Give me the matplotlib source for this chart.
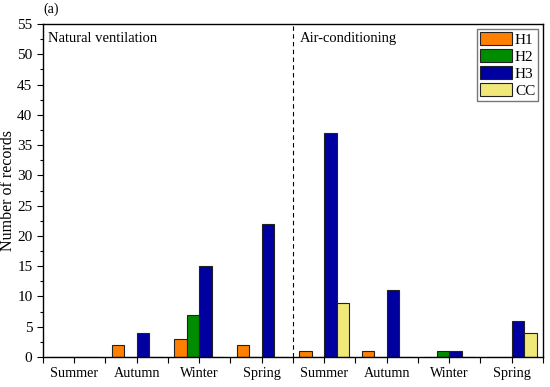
import numpy as np
import matplotlib
matplotlib.use('Agg')
import matplotlib.pyplot as plt
from matplotlib.ticker import MultipleLocator

plt.rcParams['font.family'] = ['Liberation Serif', 'DejaVu Serif']
plt.rcParams['font.size'] = 10

# data
seasons = ['Summer', 'Autumn', 'Winter', 'Spring', 'Summer', 'Autumn', 'Winter', 'Spring']
h1 = [0, 2, 3, 2, 1, 1, 0, 0]
h2 = [0, 0, 7, 0, 0, 0, 1, 0]
h3 = [0, 4, 15, 22, 37, 11, 1, 6]
cc = [0, 0, 0, 0, 9, 0, 0, 4]

series = [('H1', h1, '#FF8000'), ('H2', h2, '#008C00'),
          ('H3', h3, '#0000A0'), ('CC', cc, '#F0E878')]

fig = plt.figure(figsize=(5.5, 3.87), dpi=100)
ax = fig.add_axes([0.078, 0.0775, 0.909, 0.8605])

x = np.arange(len(seasons))
w = 0.2
for i, (name, vals, col) in enumerate(series):
    ax.bar(x + (i - 1.5) * w, vals, width=w, color=col, edgecolor='#222222',
           linewidth=0.8, label=name)

ax.axvline(3.5, color='black', linestyle=(0, (4, 3)), linewidth=0.8)

ax.set_xlim(-0.5, 7.5)
ax.set_ylim(0, 55)
ax.set_xticks(x)
ax.set_xticklabels(seasons)
ax.xaxis.set_minor_locator(MultipleLocator(0.5))
ax.yaxis.set_major_locator(MultipleLocator(5))
ax.yaxis.set_minor_locator(MultipleLocator(2.5))
ax.tick_params(which='major', direction='out', length=4, width=0.8)
ax.tick_params(which='minor', direction='out', length=2.5, width=0.8)
ax.tick_params(axis='x', which='both', length=4, labelsize=10.2)
ax.tick_params(axis='y', labelsize=11)
ax.set_ylabel('Number of records', fontsize=11.5, labelpad=1)

for s in ax.spines.values():
    s.set_linewidth(1.0)

ax.text(0.01, 0.975, 'Natural ventilation', transform=ax.transAxes, va='top', ha='left',
        fontsize=10.5)
ax.text(0.514, 0.975, 'Air-conditioning', transform=ax.transAxes, va='top', ha='left',
        fontsize=10.5)
fig.text(0.078, 0.958, '(a)', ha='left', va='bottom', fontsize=10)

leg = ax.legend(loc='upper right', fontsize=11, handlelength=2.1, handleheight=1.0,
                borderpad=0.2, labelspacing=0.13, handletextpad=0.2,
                borderaxespad=0.3, fancybox=False, edgecolor='#555555')
leg.get_frame().set_linewidth(1.0)

fig.savefig('out.png', dpi=100)
